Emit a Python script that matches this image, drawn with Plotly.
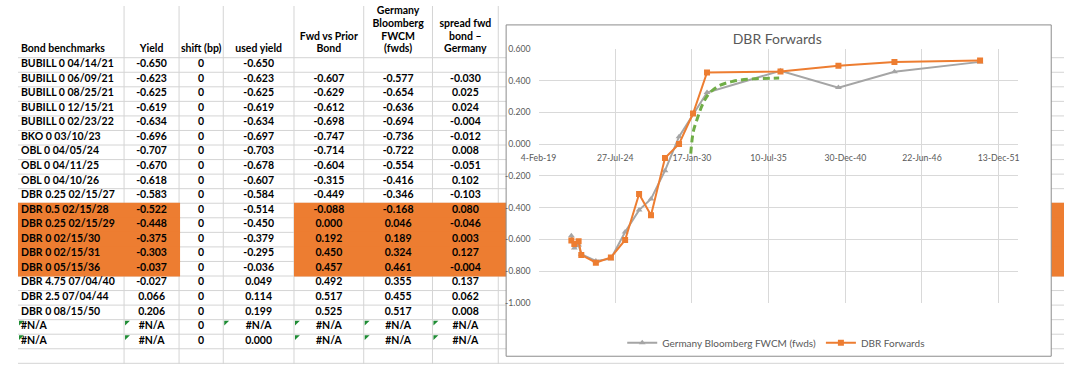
import plotly.graph_objects as go
from datetime import date, datetime, timedelta

W, H = 1065, 369

# ---------------- data ----------------
bonds = ["BUBILL 0 04/14/21", "BUBILL 0 06/09/21", "BUBILL 0 08/25/21", "BUBILL 0 12/15/21",
         "BUBILL 0 02/23/22", "BKO 0 03/10/23", "OBL 0 04/05/24", "OBL 0 04/11/25",
         "OBL 0 04/10/26", "DBR 0.25 02/15/27", "DBR 0.5 02/15/28", "DBR 0.25 02/15/29",
         "DBR 0 02/15/30", "DBR 0 02/15/31", "DBR 0 05/15/36", "DBR 4.75 07/04/40",
         "DBR 2.5 07/04/44", "DBR 0 08/15/50", "#N/A", "#N/A"]
yields = [-0.650, -0.623, -0.625, -0.619, -0.634, -0.696, -0.707, -0.670, -0.618, -0.583,
          -0.522, -0.448, -0.375, -0.303, -0.037, -0.027, 0.066, 0.206, "#N/A", "#N/A"]
shifts = [0, 0, 0, 0, 0, 0, 0, 0, 0, 0, 0, 0, 0, 0, 0, 0, 0, 0, 0, 0]
used_yield = [-0.650, -0.623, -0.625, -0.619, -0.634, -0.697, -0.703, -0.678, -0.607, -0.584,
              -0.514, -0.450, -0.379, -0.295, -0.036, 0.049, 0.114, 0.199, "#N/A", 0.000]
fwd_vs_prior = [None, -0.607, -0.629, -0.612, -0.698, -0.747, -0.714, -0.604, -0.315, -0.449,
                -0.088, 0.000, 0.192, 0.450, 0.457, 0.492, 0.517, 0.525, "#N/A", "#N/A"]
germany_fwcm = [None, -0.577, -0.654, -0.636, -0.694, -0.736, -0.722, -0.554, -0.416, -0.346,
                -0.168, 0.046, 0.189, 0.324, 0.461, 0.355, 0.455, 0.517, "#N/A", "#N/A"]
spread_fwd = [None, -0.030, 0.025, 0.024, -0.004, -0.012, 0.008, -0.051, 0.102, -0.103,
              0.080, -0.046, 0.003, 0.127, -0.004, 0.137, 0.062, 0.008, "#N/A", "#N/A"]

headers = ["Bond benchmarks", "Yield", "shift (bp)", "used yield", "Fwd vs Prior<br>Bond",
           "Germany<br>Bloomberg<br>FWCM<br>(fwds)", "spread fwd<br>bond –<br>Germany"]

# hand-drawn green dashed curve
green_dates = ["2029-12-17", "2030-02-24", "2030-06-07", "2030-10-13", "2031-03-31",
               "2031-12-12", "2032-12-30", "2034-05-20", "2036-04-10"]
green_vals = [-0.06, 0.08, 0.16, 0.245, 0.315, 0.365, 0.395, 0.41, 0.415]

series_names = ["Germany Bloomberg FWCM (fwds)", "DBR Forwards"]
chart_title = "DBR Forwards"

# ---------------- styles / layout constants ----------------
FONT = "Lato"
col_edges = [0, 108, 164, 209, 281, 352, 422, 489]
header_bottom = 53.3
row_h = 15
highlight_rows = range(10, 15)
ORANGE = "#ED7D31"
GRAY = "#A5A5A5"
GREEN = "#70AD47"
GRID = "#D9D9D9"
SHEETGRID = "#D4D4D4"
TXT = "#595959"

def px(x):
    return x / W

def py(y):
    return 1 - y / H

def fmt(v):
    if v is None:
        return ""
    if isinstance(v, str):
        return v
    return f"{v:.3f}"

columns = [bonds, yields, shifts, used_yield, fwd_vs_prior, germany_fwcm, spread_fwd]

# chart series from table
mdates, fwd_pts, ger_pts = [], [], []
for b, f, g in zip(bonds, fwd_vs_prior, germany_fwcm):
    if isinstance(f, (int, float)) and not isinstance(f, bool):
        mdates.append(datetime.strptime(b.split()[-1], "%m/%d/%y").date())
        fwd_pts.append(f)
        ger_pts.append(g)

fig = go.Figure()

fig.add_trace(go.Scatter(
    x=mdates, y=ger_pts, name=series_names[0], mode="lines+markers",
    line=dict(color=GRAY, width=2), marker=dict(symbol="triangle-up", size=6, color=GRAY),
    xaxis="x", yaxis="y"))
fig.add_trace(go.Scatter(
    x=mdates, y=fwd_pts, name=series_names[1], mode="lines+markers",
    line=dict(color=ORANGE, width=2), marker=dict(symbol="square", size=6, color=ORANGE),
    xaxis="x", yaxis="y"))
fig.add_trace(go.Scatter(
    x=green_dates, y=green_vals, mode="lines", showlegend=False,
    line=dict(color=GREEN, width=3, dash="7px,4px", shape="spline"),
    xaxis="x", yaxis="y"))

# ---------------- table text ----------------
tx, ty, tt, tp = [], [], [], []
for c, head in enumerate(headers):
    lines = head.split("<br>")
    n = len(lines)
    for i, ln in enumerate(lines):
        if c == 0:
            tx.append(col_edges[0] + 3); tp.append("middle right")
        else:
            tx.append((col_edges[c] + col_edges[c + 1]) / 2); tp.append("middle center")
        ty.append(45 - 13 * (n - 1 - i))
        tt.append(ln)
for c, col in enumerate(columns):
    for r, v in enumerate(col):
        s = fmt(v) if c != 2 else str(v)
        if s == "":
            continue
        yc = header_bottom + row_h * r + row_h / 2 - 0.5
        if c == 0:
            tx.append(col_edges[0] + 3); tp.append("middle right")
        else:
            tx.append((col_edges[c] + col_edges[c + 1]) / 2); tp.append("middle center")
        ty.append(yc)
        tt.append(s)

fig.add_trace(go.Scatter(
    x=tx, y=ty, text=tt, mode="text", textposition=tp, showlegend=False,
    textfont=dict(family=FONT, size=10.5, color="black", weight="bold"),
    cliponaxis=False, hoverinfo="skip", xaxis="x2", yaxis="y2"))

# ---------------- sheet shapes ----------------
shapes = []
nrows = len(bonds) + 1
for e in col_edges[1:]:
    shapes.append(dict(type="line", xref="paper", yref="paper", x0=px(e), x1=px(e), y0=py(0), y1=py(H),
                       line=dict(color=SHEETGRID, width=1), layer="below"))
for k in range(nrows + 1):
    y = header_bottom + row_h * k
    shapes.append(dict(type="line", xref="paper", yref="paper", x0=0, x1=1, y0=py(y), y1=py(y),
                       line=dict(color=SHEETGRID, width=1), layer="below"))
for r in highlight_rows:
    y0 = header_bottom + row_h * r - 0.5
    y1 = header_bottom + row_h * (r + 1) + 0.5
    for xa, xb in [(0, col_edges[2] + 1), (col_edges[4], W)]:
        shapes.append(dict(type="rect", xref="paper", yref="paper", x0=px(xa), x1=px(xb),
                           y0=py(y0), y1=py(y1), fillcolor=ORANGE, line=dict(width=0), layer="below"))
# error indicators (green corner triangles) on #N/A cells
for c, col in enumerate(columns):
    for r, v in enumerate(col):
        if v == "#N/A":
            x0 = col_edges[c] + 1
            y0 = header_bottom + row_h * r + 1
            path = f"M {px(x0)} {py(y0)} L {px(x0 + 5)} {py(y0)} L {px(x0)} {py(y0 + 5)} Z"
            shapes.append(dict(type="path", xref="paper", yref="paper", path=path,
                               fillcolor="#1E8C34", line=dict(width=0), layer="below"))
# chart box
shapes.append(dict(type="rect", xref="paper", yref="paper", x0=px(497), x1=px(1052),
                   y0=py(19.5), y1=py(361), fillcolor="white",
                   line=dict(color="#8C8C8C", width=1), layer="below"))

# ---------------- axes ----------------
ydom = [py(306), py(44)]
yr = [-1.0, 0.6]
ytv = [-1.0, -0.8, -0.6, -0.4, -0.2, 0.0, 0.2, 0.4, 0.6]
xstart = date(2019, 2, 4)
xend = xstart + timedelta(days=12500)
zero_pos = ydom[0] + (0 - yr[0]) / (yr[1] - yr[0]) * (ydom[1] - ydom[0])

fig.update_layout(
    width=W, height=H, margin=dict(l=0, r=0, t=0, b=0),
    paper_bgcolor="white", plot_bgcolor="rgba(0,0,0,0)",
    shapes=shapes,
    title=dict(text=chart_title, x=px(773), xanchor="center", y=py(34), yanchor="middle",
               xref="paper", yref="paper", font=dict(family=FONT, size=14, color=TXT)),
    xaxis=dict(domain=[px(530), px(1018)], type="date", range=[xstart, xend],
               tick0=xstart.isoformat(), dtick=2000 * 86400000, tickformat="%-d-%b-%y",
               showgrid=True, gridcolor=GRID, gridwidth=1, zeroline=False, showline=False,
               ticks="", tickfont=dict(family=FONT, size=8.7, color=TXT),
               anchor="free", position=zero_pos, ticklabelstandoff=7),
    yaxis=dict(domain=ydom, range=yr, tickvals=ytv, ticktext=[f"{v:.3f}" for v in ytv],
               showgrid=True, gridcolor=GRID, gridwidth=1, zeroline=False, showline=False,
               ticks="", tickfont=dict(family=FONT, size=8.7, color=TXT), ticklabelstandoff=7),
    xaxis2=dict(domain=[0, 1], range=[0, W], visible=False, fixedrange=True),
    yaxis2=dict(domain=[0, 1], range=[H, 0], visible=False, fixedrange=True, anchor="x2"),
    legend=dict(orientation="h", x=px(772), xanchor="center", y=py(347), yanchor="middle",
                font=dict(family=FONT, size=10, color=TXT), bgcolor="rgba(0,0,0,0)",
                itemwidth=30),
    showlegend=True,
)

fig.write_html("out.html", config={"displayModeBar": False},
               post_script="document.body.style.margin='0px';document.body.style.overflow='hidden';")
